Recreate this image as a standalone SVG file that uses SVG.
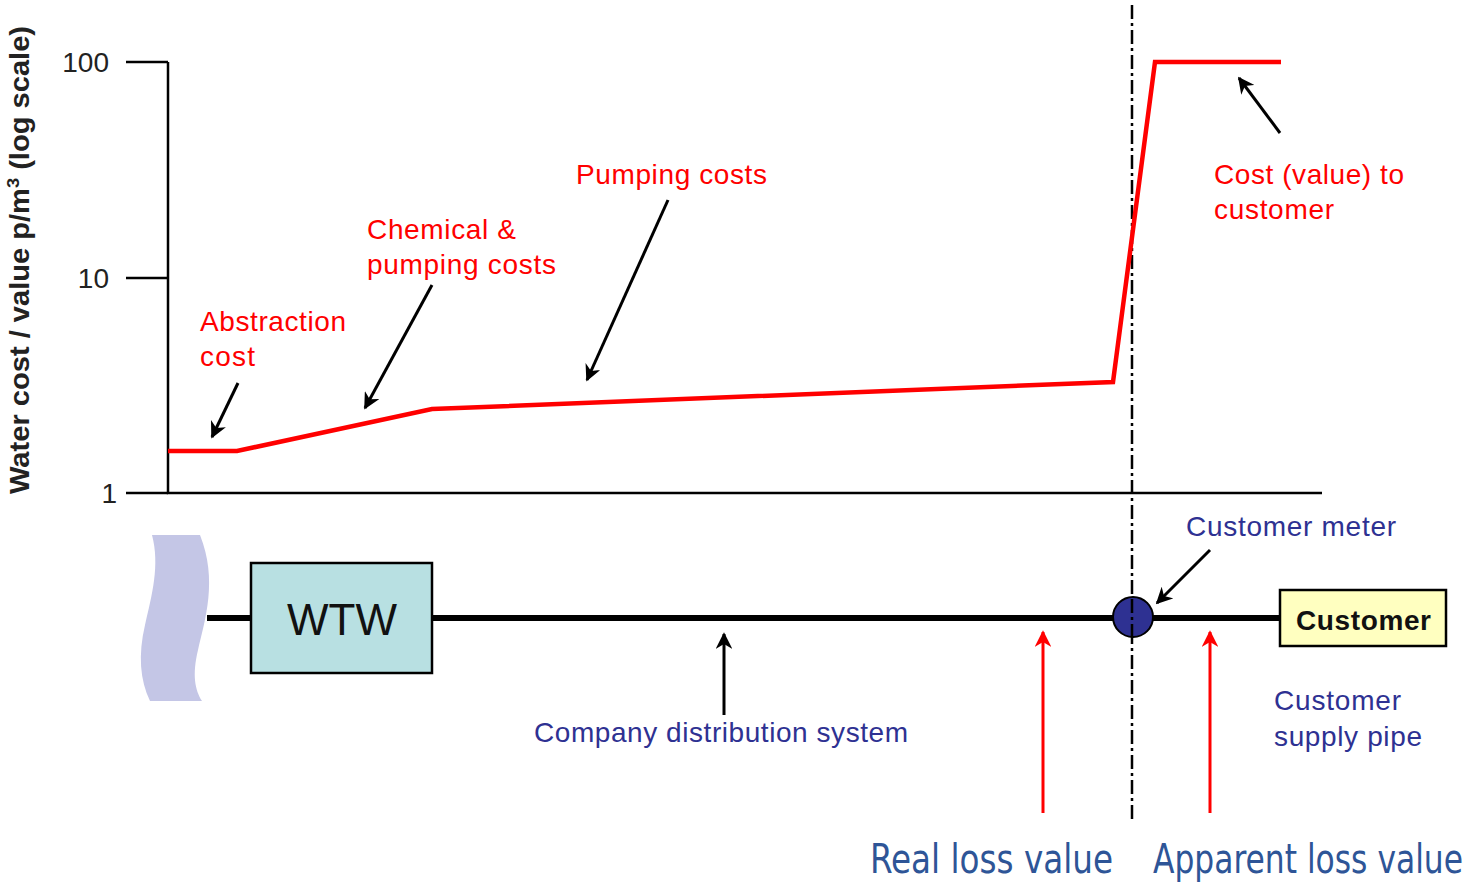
<svg xmlns="http://www.w3.org/2000/svg" width="1478" height="887" viewBox="0 0 1478 887">
  <style>
    .ax { stroke: #000; stroke-width: 2.5; fill: none; }
    .red { font-family: "Liberation Sans", Arial, sans-serif; font-size: 28px; fill: #ff0000; }
    .blue { font-family: "Liberation Sans", Arial, sans-serif; font-size: 28px; fill: #2e3192; }
    .tick { font-family: "Liberation Sans", Arial, sans-serif; font-size: 28px; fill: #222; text-anchor: end; }
    .big { font-family: "DejaVu Sans Condensed", "Liberation Sans Narrow", "Liberation Sans", sans-serif; font-size: 35px; fill: #2e5597; }
    .arr { stroke: #000; stroke-width: 3; fill: none; marker-end: url(#ah); }
    .rarr { stroke: #ff0000; stroke-width: 3; fill: none; marker-end: url(#rh); }
  </style>
  <defs>
    <marker id="ah" viewBox="0 0 10 10" refX="9" refY="5" markerWidth="5.5" markerHeight="5.5" orient="auto" markerUnits="strokeWidth">
      <path d="M0,0 L10,5 L0,10 L3,5 Z" fill="#000"/>
    </marker>
    <marker id="rh" viewBox="0 0 10 10" refX="9" refY="5" markerWidth="5.5" markerHeight="5.5" orient="auto" markerUnits="strokeWidth">
      <path d="M0,0 L10,5 L0,10 L3,5 Z" fill="#ff0000"/>
    </marker>
  </defs>
  <rect width="1478" height="887" fill="#fff"/>

  <!-- chart axes -->
  <g id="axes">
    <path class="ax" d="M168,62 V493 H1322"/>
    <path class="ax" d="M126,62 H168 M126,278 H168 M126,493 H168"/>
    <text class="tick" x="109" y="72">100</text>
    <text class="tick" x="109" y="288">10</text>
    <text class="tick" x="117" y="503">1</text>
    <text transform="translate(29,260) rotate(-90)" text-anchor="middle" font-family="Liberation Sans, Arial, sans-serif" font-size="27" font-weight="bold" fill="#222" textLength="468" lengthAdjust="spacingAndGlyphs">Water cost / value p/m<tspan font-size="17" dy="-10">3</tspan><tspan dy="10"> (log scale)</tspan></text>
  </g>

  <!-- meter boundary -->
  <g id="boundary">
    <line x1="1132" y1="5" x2="1132" y2="822" stroke="#000" stroke-width="2.5" stroke-dasharray="14,4,3,4"/>
  </g>

  <!-- cost curve -->
  <g id="cost-curve">
    <polyline points="168,451 237,451 432,409 1113,382 1155,62 1281,62" fill="none" stroke="#ff0000" stroke-width="4.5" stroke-linejoin="miter"/>
  </g>

  <!-- cost labels -->
  <g id="label-abstraction">
    <text class="red" x="200" y="331" textLength="146">Abstraction</text>
    <text class="red" x="200" y="366" textLength="55">cost</text>
  </g>
  <g id="label-chemical">
    <text class="red" x="367" y="239" textLength="149">Chemical &amp;</text>
    <text class="red" x="367" y="274" textLength="189">pumping costs</text>
  </g>
  <g id="label-pumping">
    <text class="red" x="576" y="184" textLength="191">Pumping costs</text>
  </g>
  <g id="label-customer-cost">
    <text class="red" x="1214" y="184" textLength="190">Cost (value) to</text>
    <text class="red" x="1214" y="219" textLength="120">customer</text>
  </g>

  <!-- water source -->
  <g id="source">
    <path d="M152,535 H200 C218,580 205,620 198,650 C192,675 195,690 202,701 H150 C140,680 138,655 145,625 C152,595 160,565 152,535 Z" fill="#c4c6e6"/>
  </g>

  <!-- pipe -->
  <g id="pipe">
    <line x1="207" y1="618" x2="1280" y2="618" stroke="#000" stroke-width="6"/>
  </g>

  <g id="wtw">
    <rect x="251" y="563" width="181" height="110" fill="#b8e0e2" stroke="#000" stroke-width="2.5"/>
    <text x="342" y="635" text-anchor="middle" font-family="Liberation Sans, Arial, sans-serif" font-size="44" fill="#111">WTW</text>
  </g>

  <g id="meter">
    <circle cx="1133" cy="617" r="20" fill="#2e3192" stroke="#000" stroke-width="2"/>
    <line x1="1132" y1="599" x2="1132" y2="636" stroke="#000" stroke-width="2.5" stroke-dasharray="14,4,3,4"/>
  </g>

  <g id="customer">
    <rect x="1280" y="590" width="166" height="56" fill="#ffffc0" stroke="#000" stroke-width="2.5"/>
    <text x="1296" y="630" font-family="Liberation Sans, Arial, sans-serif" font-size="28" font-weight="bold" fill="#111" textLength="135">Customer</text>
  </g>

  <!-- network labels -->
  <g id="label-distribution">
    <text class="blue" x="534" y="742" textLength="374">Company distribution system</text>
  </g>
  <g id="label-meter">
    <text class="blue" x="1186" y="536" textLength="210">Customer meter</text>
  </g>
  <g id="label-supply">
    <text class="blue" x="1274" y="710" textLength="127">Customer</text>
    <text class="blue" x="1274" y="746" textLength="148">supply pipe</text>
  </g>

  <!-- loss value captions, stretched vertically for a tall condensed look -->
  <g id="label-real-loss">
    <text class="big" transform="translate(870,873) scale(1,1.17)" x="0" y="0" textLength="243" lengthAdjust="spacingAndGlyphs">Real loss value</text>
  </g>
  <g id="label-apparent-loss">
    <text class="big" transform="translate(1153,873) scale(1,1.17)" x="0" y="0" textLength="310" lengthAdjust="spacingAndGlyphs">Apparent loss value</text>
  </g>

  <!-- connectors -->
  <g id="connectors">
    <line class="arr" x1="238" y1="383" x2="212" y2="437"/>
    <line class="arr" x1="432" y1="285" x2="365" y2="408"/>
    <line class="arr" x1="668" y1="200" x2="587" y2="380"/>
    <line class="arr" x1="1280" y1="133" x2="1239" y2="78"/>
    <line class="arr" x1="724" y1="715" x2="724" y2="634"/>
    <line class="arr" x1="1210" y1="550" x2="1157" y2="603"/>
    <line class="rarr" x1="1043" y1="813" x2="1043" y2="632"/>
    <line class="rarr" x1="1210" y1="813" x2="1210" y2="632"/>
  </g>
</svg>
